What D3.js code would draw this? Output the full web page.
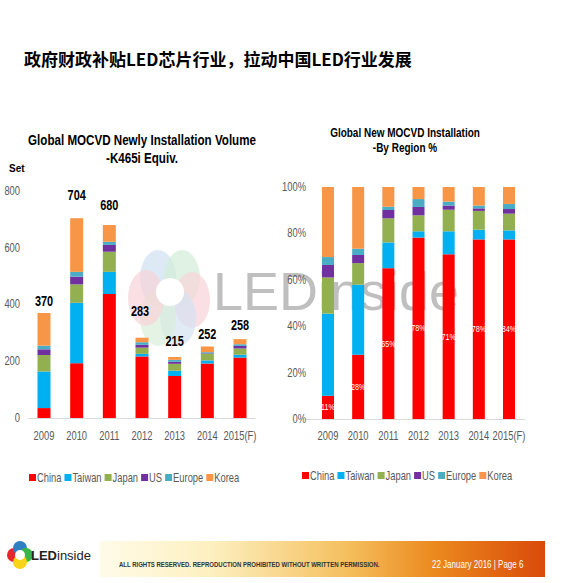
<!DOCTYPE html><html><head><meta charset="utf-8">
<script src="https://cdn.jsdelivr.net/npm/d3@7"></script>
<style>body{margin:0;background:#fff}svg{display:block}</style></head><body>
<svg id="c" width="587" height="583"></svg>
<script>
const years=["2009","2010","2011","2012","2013","2014","2015(F)"];
const regions=["China","Taiwan","Japan","US","Europe","Korea"];
const colors=["#ff0000","#00b0f0","#92b050","#7030a0","#4bacc6","#f79646"];
const china=[35,193,437,217,148,192,213];
const taiwan=[129,213,78,9,19,11,10];
const japan=[58,65,71,22,24,23,22];
const us=[20,27,24,10,7,2,9];
const europe=[13,17,11,9,7,4,6];
const korea=[115,189,59,16,10,20,18];
const totals=[370,704,680,283,215,252,258];
const pChina=[10,27.7,65,78.2,71,77.4,77.4];
const pTaiwan=[35.4,30.2,11.1,2.7,9.9,4.2,3.9];
const pJapan=[15.6,9.3,10.4,6.9,9.3,8.1,7.2];
const pUS=[5.4,3.5,3.6,3.6,1.8,1.1,2];
const pEurope=[3.4,2.7,1.4,3.4,1.7,1.2,2.2];
const pKorea=[30.2,26.6,8.5,5.2,6.3,8,7.3];
const pLabels=["11%","28%","65%","78%","71%","78%","84%"];
const yTicks=[0,200,400,600,800];
const pTicks=[0,20,40,60,80,100];

const svg=d3.select("#c");
const F="'Liberation Sans',sans-serif";
function cond(sel,f){return sel.attr("transform",function(){const x=+this.getAttribute("x"),y=+this.getAttribute("y");return `translate(${x},${y}) scale(${f},1) translate(${-x},${-y})`;});}
svg.append("text").attr("x",24).attr("y",66).attr("font-family","'Noto Sans CJK SC'").attr("font-weight","bold").attr("font-size",17).text("政府财政补贴LED芯片行业，拉动中国LED行业发展");

// watermark
const wm=svg.append("g").attr("opacity",0.5);
[["#9fc5e8",-12,-14],["#a8dcb0",12,-14],["#f3a9b3",22,8],["#a8c8e8",8,26],["#b5dfb5",-12,26],["#f3a9b3",-24,6]].forEach(p=>wm.append("ellipse").attr("cx",170+p[1]).attr("cy",292+p[2]).attr("rx",18).attr("ry",28).attr("fill",p[0]).attr("opacity",0.7));
wm.append("circle").attr("cx",170).attr("cy",292).attr("r",14).attr("fill","#fff");
svg.append("text").attr("x",213).attr("y",310).attr("font-family",F).attr("font-size",54).attr("fill","#aaa").attr("opacity",0.75).text("LEDinside");

function stackData(arrs){return years.map((y,i)=>{let o={year:y};regions.forEach((r,k)=>o[r]=arrs[k][i]);return o;});}

// left chart
const x1=d3.scalePoint().domain(years).range([44,240]);
const y1=d3.scaleLinear().domain([0,800]).range([418,191]);
const st1=d3.stack().keys(regions)(stackData([china,taiwan,japan,us,europe,korea]));
const g1=svg.append("g");
st1.forEach((s,k)=>g1.selectAll(null).data(s).enter().append("rect").attr("x",d=>x1(d.data.year)-6.5).attr("width",13).attr("y",d=>y1(d[1])).attr("height",d=>y1(d[0])-y1(d[1])).attr("fill",colors[k]));
g1.append("line").attr("x1",28).attr("x2",255).attr("y1",418.5).attr("y2",418.5).attr("stroke","#d9d9d9");
cond(g1.selectAll(null).data(yTicks).enter().append("text").attr("x",20).attr("y",d=>y1(d)+4).attr("text-anchor","end").attr("font-family",F).attr("font-size",12).attr("fill","#595959").text(d=>d),0.78);
cond(g1.selectAll(null).data(years).enter().append("text").attr("x",d=>x1(d)).attr("y",440).attr("text-anchor","middle").attr("font-family",F).attr("font-size",12).attr("fill","#595959").text(d=>d),0.78);
const lblOff=[7,18,15,22,11,7,15];
cond(g1.selectAll(null).data(totals).enter().append("text").attr("x",(d,i)=>x1(years[i])+(i==3?-2:0)).attr("y",(d,i)=>y1(d)-lblOff[i]).attr("text-anchor","middle").attr("font-family",F).attr("font-weight","bold").attr("font-size",14).attr("fill","#000").text(d=>d),0.78);
svg.append("text").attr("x",9).attr("y",172).attr("font-family",F).attr("font-weight","bold").attr("font-size",10).text("Set");
cond(svg.append("text").attr("x",142).attr("y",145).attr("text-anchor","middle").attr("font-family",F).attr("font-weight","bold").attr("font-size",14.5).text("Global MOCVD  Newly Installation Volume"),0.8);
cond(svg.append("text").attr("x",142).attr("y",163).attr("text-anchor","middle").attr("font-family",F).attr("font-weight","bold").attr("font-size",14.5).text("-K465i Equiv."),0.8);

// right chart
const x2=d3.scalePoint().domain(years).range([328,509]);
const y2=d3.scaleLinear().domain([0,100]).range([419,187]);
const st2=d3.stack().keys(regions)(stackData([pChina,pTaiwan,pJapan,pUS,pEurope,pKorea]));
const g2=svg.append("g");
st2.forEach((s,k)=>g2.selectAll(null).data(s).enter().append("rect").attr("x",d=>x2(d.data.year)-6).attr("width",12).attr("y",d=>y2(Math.min(d[1],100))).attr("height",d=>y2(d[0])-y2(Math.min(d[1],100))).attr("fill",colors[k]));
g2.append("line").attr("x1",305).attr("x2",525).attr("y1",419.5).attr("y2",419.5).attr("stroke","#d9d9d9");
cond(g2.selectAll(null).data(pTicks).enter().append("text").attr("x",306).attr("y",d=>y2(d)+4).attr("text-anchor","end").attr("font-family",F).attr("font-size",12).attr("fill","#595959").text(d=>d+"%"),0.78);
cond(g2.selectAll(null).data(years).enter().append("text").attr("x",d=>x2(d)).attr("y",440).attr("text-anchor","middle").attr("font-family",F).attr("font-size",12).attr("fill","#595959").text(d=>d),0.78);
cond(g2.selectAll(null).data(pLabels).enter().append("text").attr("x",(d,i)=>x2(years[i])).attr("y",(d,i)=>y2(pChina[i]/2)+3).attr("text-anchor","middle").attr("font-family",F).attr("font-size",9).attr("fill","#fff").text(d=>d),0.8);
cond(svg.append("text").attr("x",405).attr("y",137).attr("text-anchor","middle").attr("font-family",F).attr("font-weight","bold").attr("font-size",12.5).text("Global New MOCVD Installation"),0.8);
cond(svg.append("text").attr("x",405).attr("y",152).attr("text-anchor","middle").attr("font-family",F).attr("font-weight","bold").attr("font-size",12.5).text("-By Region %"),0.8);

// legends
function legend(x0,y0){const g=svg.append("g");let x=x0;regions.forEach((r,k)=>{g.append("rect").attr("x",x).attr("y",y0-8).attr("width",7).attr("height",7).attr("fill",colors[k]);const t=g.append("text").attr("x",x+8).attr("y",y0).attr("font-family",F).attr("font-size",12).attr("fill","#595959").text(r);const w=t.node().getComputedTextLength()*0.78;cond(t,0.78);x+=w+11;});}
legend(29,482);legend(302,480);

// footer
const grad=svg.append("defs").append("linearGradient").attr("id","fg");
[["0%","#fffbe8"],["25%","#fdf0c0"],["55%","#f5c060"],["75%","#eb8a1e"],["100%","#d94a0a"]].forEach(s=>grad.append("stop").attr("offset",s[0]).attr("stop-color",s[1]));
svg.append("rect").attr("x",100).attr("y",541).attr("width",445).attr("height",36).attr("fill","url(#fg)");
cond(svg.append("text").attr("x",119).attr("y",567).attr("font-family",F).attr("font-weight","bold").attr("font-size",8).attr("fill","#333").text("ALL RIGHTS RESERVED. REPRODUCTION PROHIBITED WITHOUT WRITTEN PERMISSION."),0.75);
cond(svg.append("text").attr("x",432).attr("y",568).attr("font-family",F).attr("font-size",10).attr("fill","#fff").text("22 January 2016 |  Page 6"),0.8);
const lg=svg.append("g");
[["#e8262c",-6,0],["#2f7fc1",0,-7],["#3ab54a",6,0],["#f7d417",0,7]].forEach(p=>lg.append("ellipse").attr("cx",20+p[1]).attr("cy",555+p[2]).attr("rx",7).attr("ry",7).attr("fill",p[0]));
lg.append("circle").attr("cx",20).attr("cy",555).attr("r",5).attr("fill","#fff");
svg.append("text").attr("x",31).attr("y",560).attr("font-family",F).attr("font-size",13).attr("fill","#222").html("<tspan font-weight='bold'>LED</tspan>inside");
</script></body></html>
